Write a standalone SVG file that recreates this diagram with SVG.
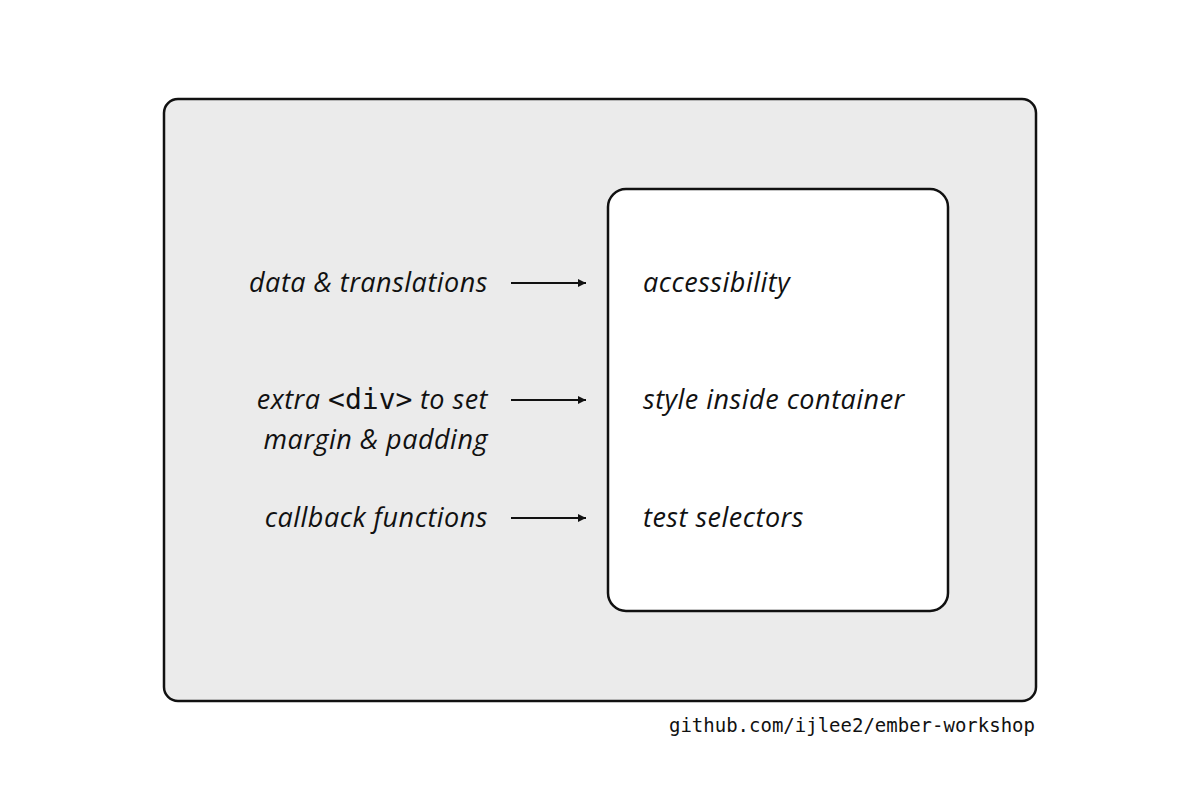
<svg xmlns="http://www.w3.org/2000/svg" width="1200" height="800" viewBox="0 0 1200 800">
<style>
.lbl{font-family:"Open Sans",Lato,sans-serif;font-style:italic;font-size:27px;letter-spacing:0.5px;fill:#111}
.mono{font-family:"DejaVu Sans Mono",monospace;font-style:normal;letter-spacing:0}
.box{stroke:#111;stroke-width:2.5}
.conn{stroke:#111;stroke-width:1.8;fill:none;marker-end:url(#ah)}
</style>
<defs>
<marker id="ah" viewBox="0 0 10 10" refX="10" refY="5" markerWidth="10" markerHeight="8" markerUnits="userSpaceOnUse" orient="auto">
<path d="M0,0 L10,5 L0,10 z" fill="#111"/>
</marker>
</defs>
<rect width="1200" height="800" fill="#fff"/>
<g id="outer">
<rect class="box" x="164" y="99" width="872" height="602" rx="14" fill="#ebebeb"/>
<text class="lbl" x="488" y="292" text-anchor="end">data &amp; translations</text>
<text class="lbl" x="488" y="409" text-anchor="end">extra <tspan class="mono" font-size="28">&lt;div&gt;</tspan> to set</text>
<text class="lbl" x="488" y="449" text-anchor="end">margin &amp; padding</text>
<text class="lbl" x="488" y="527" text-anchor="end">callback functions</text>
</g>
<g id="inner">
<rect class="box" x="608" y="189" width="340" height="422" rx="18" fill="#fff"/>
<text class="lbl" x="643" y="292">accessibility</text>
<text class="lbl" x="643" y="409">style inside container</text>
<text class="lbl" x="643" y="527">test selectors</text>
</g>
<g id="connectors">
<line class="conn" x1="511" y1="283" x2="586" y2="283"/>
<line class="conn" x1="511" y1="400" x2="586" y2="400"/>
<line class="conn" x1="511" y1="518" x2="586" y2="518"/>
</g>
<text x="1035" y="732" text-anchor="end" font-family="'DejaVu Sans Mono',monospace" font-size="19" fill="#111">github.com/ijlee2/ember-workshop</text>
</svg>
